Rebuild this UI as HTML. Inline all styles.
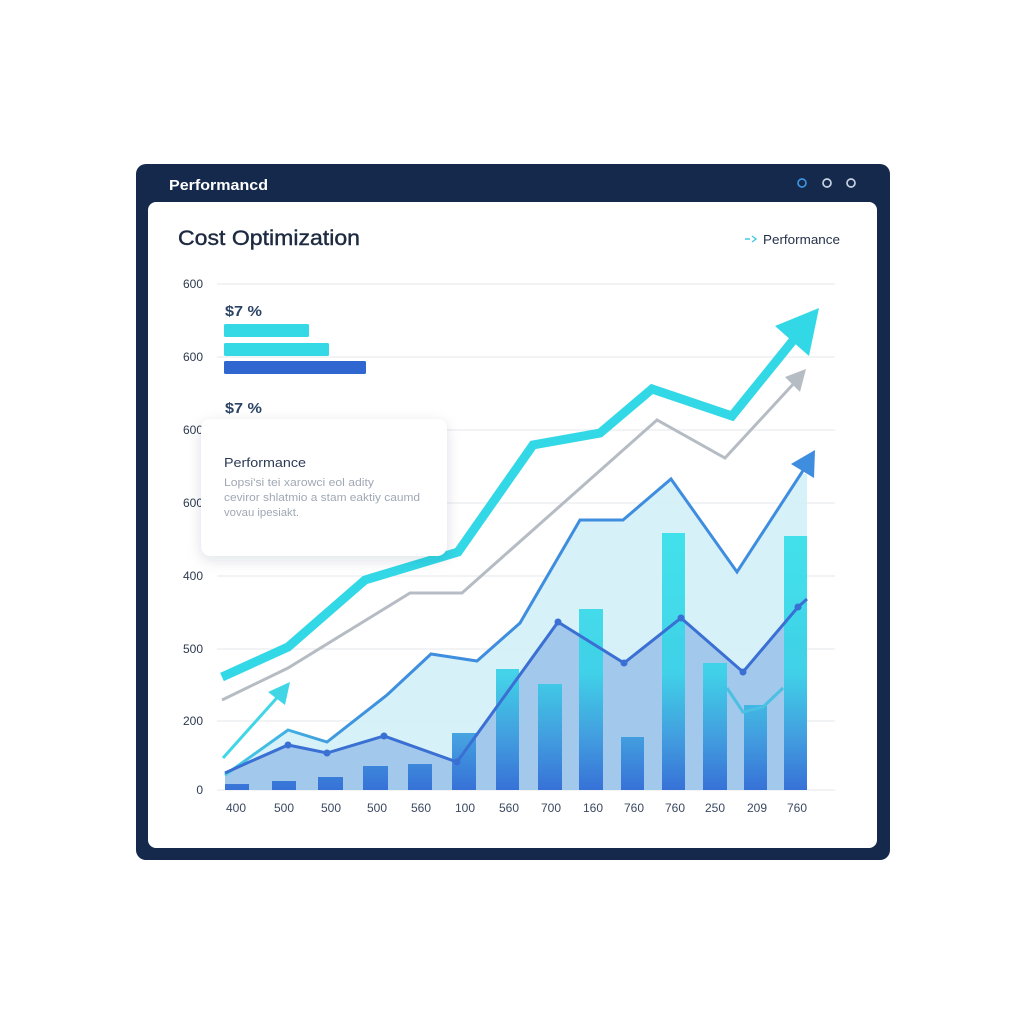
<!DOCTYPE html>
<html><head><meta charset="utf-8"><style>
html,body{margin:0;padding:0;background:#fff;}
svg{display:block;}
text{font-family:"Liberation Sans",Arial,sans-serif;}
</style></head><body>
<svg width="1024" height="1024" viewBox="0 0 1024 1024" xmlns="http://www.w3.org/2000/svg">
<defs>
<linearGradient id="barg" gradientUnits="userSpaceOnUse" x1="0" y1="530" x2="0" y2="790">
<stop offset="0" stop-color="#34e0ea"/><stop offset="0.55" stop-color="#38d2e8"/><stop offset="0.8" stop-color="#3a9ade"/><stop offset="1" stop-color="#2f6bd6"/>
</linearGradient>
<linearGradient id="lcg" gradientUnits="userSpaceOnUse" x1="225" y1="0" x2="420" y2="0">
<stop offset="0" stop-color="#46d0e4"/><stop offset="0.6" stop-color="#3e95df"/><stop offset="1" stop-color="#3e8ddf"/>
</linearGradient>
<filter id="sh" x="-20%" y="-20%" width="140%" height="150%"><feDropShadow dx="0" dy="4" stdDeviation="7" flood-color="#1a2a40" flood-opacity="0.13"/></filter>
</defs>
<rect width="1024" height="1024" fill="#ffffff"/>
<rect x="136" y="164" width="754" height="696" rx="10" fill="#14294b"/>
<rect x="148" y="202" width="729" height="646" rx="8" fill="#ffffff"/>
<text x="169" y="190" font-size="15" font-weight="bold" fill="#ffffff" textLength="99" lengthAdjust="spacingAndGlyphs">Performancd</text>
<circle cx="802" cy="183" r="4" fill="none" stroke="#3a95e0" stroke-width="1.7"/>
<circle cx="827" cy="183" r="4" fill="none" stroke="#c9d3e2" stroke-width="1.7"/>
<circle cx="851" cy="183" r="4" fill="none" stroke="#c9d3e2" stroke-width="1.7"/>
<text x="178" y="245" font-size="21" fill="#1d2a40" stroke="#1d2a40" stroke-width="0.4" textLength="182" lengthAdjust="spacingAndGlyphs">Cost Optimization</text>
<path d="M745 239 L750 239 M752 236 L756 239 L752 242" stroke="#45c8e6" stroke-width="1.4" fill="none"/>
<text x="763" y="244" font-size="13" fill="#25324a" textLength="77" lengthAdjust="spacingAndGlyphs">Performance</text>
<g stroke="#e4e7eb" stroke-width="1">
<line x1="217" y1="284" x2="835" y2="284"/><line x1="217" y1="357" x2="835" y2="357"/><line x1="217" y1="430" x2="835" y2="430"/><line x1="217" y1="503" x2="835" y2="503"/><line x1="217" y1="576" x2="835" y2="576"/><line x1="217" y1="649" x2="835" y2="649"/><line x1="217" y1="721" x2="835" y2="721"/><line x1="217" y1="790" x2="835" y2="790"/>
</g>
<g font-size="12" fill="#2d3a4f" text-anchor="end">
<text x="203" y="288">600</text><text x="203" y="361">600</text><text x="203" y="434">600</text><text x="203" y="507">600</text><text x="203" y="580">400</text><text x="203" y="653">500</text><text x="203" y="725">200</text><text x="203" y="794">0</text>
</g>
<g font-size="12" fill="#3a4860" text-anchor="middle">
<text x="236" y="812">400</text><text x="284" y="812">500</text><text x="331" y="812">500</text><text x="377" y="812">500</text><text x="421" y="812">560</text><text x="465" y="812">100</text><text x="509" y="812">560</text><text x="551" y="812">700</text><text x="593" y="812">160</text><text x="634" y="812">760</text><text x="675" y="812">760</text><text x="715" y="812">250</text><text x="757" y="812">209</text><text x="797" y="812">760</text>
</g>
<polygon points="225,775 288,730 327,742 387,695 431,654 477,661 520,623 580,520 623,520 671,479 737,572 800,474 807,474 807,790 225,790" fill="#d3f0f7" opacity="0.9"/>
<polygon points="225,773 247,763 288,745 327,753 384,736 457,762 558,622 624,663 681,618 743,672 798,607 807,599 807,790 225,790" fill="#6e9fe0" opacity="0.5"/>
<g fill="url(#barg)" opacity="0.92">
<rect x="225" y="784" width="24" height="6"/><rect x="272" y="781" width="24" height="9"/><rect x="318" y="777" width="25" height="13"/><rect x="363" y="766" width="25" height="24"/><rect x="408" y="764" width="24" height="26"/><rect x="452" y="733" width="24" height="57"/><rect x="496" y="669" width="23" height="121"/><rect x="538" y="684" width="24" height="106"/><rect x="579" y="609" width="24" height="181"/><rect x="621" y="737" width="23" height="53"/><rect x="662" y="533" width="23" height="257"/><rect x="703" y="663" width="24" height="127"/><rect x="744" y="705" width="23" height="85"/><rect x="784" y="536" width="23" height="254"/>
</g>
<polyline points="727,688 743,712 763,707 783,688" fill="none" stroke="#4cc0e3" stroke-width="3"/>
<polyline points="222,677 288,647 365,580 458,552 533,445 600,433 652,389 732,416 795,338" fill="none" stroke="#33d8e7" stroke-width="9" stroke-linejoin="miter"/>
<polygon points="819,308 775,326 809,356" fill="#33d8e7"/>
<polyline points="222,700 288,668 410,593 462,593 657,420 725,458 797,380" fill="none" stroke="#b6bcc4" stroke-width="3"/>
<polygon points="806,369 785,377 800,392" fill="#b6bcc4"/>
<polyline points="225,775 288,730 327,742 387,695 431,654 477,661 520,623 580,520 623,520 671,479 737,572 806,466" fill="none" stroke="url(#lcg)" stroke-width="3"/>
<polygon points="815,450 791,464 814,478" fill="#3e8ddf"/>
<line x1="223" y1="758" x2="283" y2="691" stroke="#40d6e6" stroke-width="3"/>
<polygon points="290,682 268,692 285,705" fill="#40d6e6"/>
<polyline points="225,773 247,763 288,745 327,753 384,736 457,762 558,622 624,663 681,618 743,672 798,607 807,599" fill="none" stroke="#3a6fd3" stroke-width="3"/>
<g fill="#3a6fd3">
<circle cx="288" cy="745" r="3.5"/><circle cx="327" cy="753" r="3.5"/><circle cx="384" cy="736" r="3.5"/><circle cx="457" cy="762" r="3.5"/><circle cx="558" cy="622" r="3.5"/><circle cx="624" cy="663" r="3.5"/><circle cx="681" cy="618" r="3.5"/><circle cx="743" cy="672" r="3.5"/><circle cx="798" cy="607" r="3.5"/>
</g>
<text x="225" y="316" font-size="15" font-weight="bold" fill="#2b4466" textLength="37" lengthAdjust="spacingAndGlyphs">$7 %</text>
<rect x="224" y="324" width="85" height="13" rx="1.5" fill="#35d9e6"/>
<rect x="224" y="343" width="105" height="13" rx="1.5" fill="#35d9e6"/>
<rect x="224" y="361" width="142" height="13" rx="1.5" fill="#2f66cf"/>
<text x="225" y="413" font-size="15" font-weight="bold" fill="#2b4466" textLength="37" lengthAdjust="spacingAndGlyphs">$7 %</text>
<rect x="201" y="419" width="246" height="137" rx="10" fill="#ffffff" filter="url(#sh)"/>
<text x="224" y="467" font-size="13" fill="#2b3a55" textLength="82" lengthAdjust="spacingAndGlyphs">Performance</text>
<g font-size="11" fill="#a0a8b4">
<text x="224" y="486" textLength="150" lengthAdjust="spacingAndGlyphs">Lopsi'si tei xarowci eol adity</text>
<text x="224" y="501" textLength="196" lengthAdjust="spacingAndGlyphs">ceviror shlatmio a stam eaktiy caumd</text>
<text x="224" y="516" textLength="75" lengthAdjust="spacingAndGlyphs">vovau ipesiakt.</text>
</g>
</svg>
</body></html>
